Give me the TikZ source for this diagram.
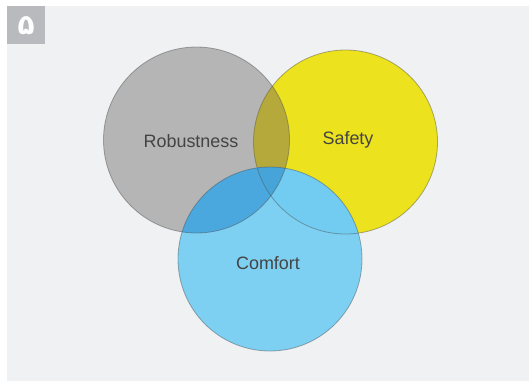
\documentclass[tikz,border=0pt]{standalone}
\usepackage{fontspec}
\setmainfont{Liberation Sans}
\newfontfamily\persianfont[Script=Arabic]{DejaVu Sans}
\usepackage{xcolor}
\usetikzlibrary{positioning}

\definecolor{panelgray}{HTML}{F0F1F3}
\definecolor{badgegray}{HTML}{B9BABE}
\definecolor{robgray}{HTML}{B5B5B5}
\definecolor{safeyellow}{HTML}{ECE21D}
\definecolor{comfblue}{HTML}{7DD0F2}
\definecolor{robsafe}{HTML}{B4A93A}
\definecolor{robcomf}{HTML}{4BA8DE}
\definecolor{safecomf}{HTML}{72CCF1}
\definecolor{allthree}{HTML}{46A4D8}
\definecolor{labelgray}{HTML}{444444}

\tikzset{
  venn/.style={circle, minimum size=#1, inner sep=0pt, outer sep=0pt},
  vennlabel/.style={text=labelgray, font=\fontsize{18}{18}\selectfont},
  rim/.style={draw=black!70, draw opacity=0.45, line width=0.8bp}
}

\begin{document}
\begin{tikzpicture}[x=1bp, y=-1bp]
  \useasboundingbox (0,0) rectangle (529,381);
  \fill[white] (0,0) rectangle (529,381);
  \fill[panelgray] (7,6) rectangle (529,381);

  \node[fill=badgegray, minimum size=38bp, inner sep=0pt, anchor=north west] (badge) at (7,6)
    {\color{white}\persianfont\bfseries\fontsize{28}{28}\selectfont ۵};

  \node[venn=186bp, fill=robgray] (robust) at (196.5,140) {};
  \node[venn=184bp, fill=safeyellow] (safety) at (345.5,142) {};
  \node[venn=184bp, fill=comfblue] (comfort) at (270,259) {};

  \begin{scope}
    \clip (robust.center) circle[radius=93bp];
    \fill[robsafe] (safety.center) circle[radius=92bp];
    \fill[robcomf] (comfort.center) circle[radius=92bp];
    \clip (safety.center) circle[radius=92bp];
    \fill[allthree] (comfort.center) circle[radius=92bp];
  \end{scope}
  \begin{scope}
    \clip (safety.center) circle[radius=92bp];
    \clip (comfort.center) circle[radius=92bp];
    \fill[safecomf] (robust.center) circle[radius=200bp];
    \fill[allthree] (robust.center) circle[radius=93bp];
  \end{scope}

  \draw[rim] (robust.center) circle[radius=93bp];
  \draw[rim] (safety.center) circle[radius=92bp];
  \draw[rim] (comfort.center) circle[radius=92bp];

  \node[vennlabel] (robustlabel) at (191,141) {Robustness};
  \node[vennlabel] (safetylabel) at (348,140) {Safety};
  \node[vennlabel] (comfortlabel) at (268,263) {Comfort};
\end{tikzpicture}
\end{document}
